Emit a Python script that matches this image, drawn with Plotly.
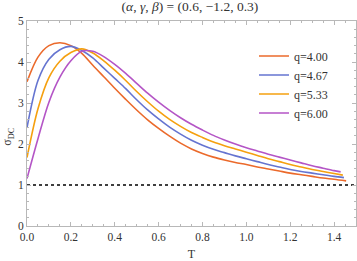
import plotly.graph_objects as go

T = [0.00, 0.05, 0.10, 0.15, 0.20, 0.25, 0.30, 0.35, 0.40, 0.45, 0.50, 0.55, 0.60, 0.65,
     0.70, 0.75, 0.80, 0.85, 0.90, 0.95, 1.00, 1.05, 1.10, 1.15, 1.20, 1.25, 1.30, 1.35, 1.40]

q_labels = ["q=4.00", "q=4.67", "q=5.33", "q=6.00"]
colors = ["#EB6A2B", "#6574D0", "#F5A00F", "#B455C6"]

sigma_q400 = [3.52, 4.12, 4.40, 4.47, 4.40, 4.21, 3.92, 3.64, 3.36, 3.09, 2.83, 2.59, 2.38, 2.19,
              2.02, 1.88, 1.77, 1.68, 1.61, 1.55, 1.50, 1.44, 1.39, 1.34, 1.29, 1.25, 1.21, 1.17, 1.14]
sigma_q467 = [2.40, 3.55, 4.07, 4.30, 4.38, 4.28, 4.10, 3.85, 3.60, 3.35, 3.08, 2.83, 2.61, 2.41,
              2.24, 2.09, 1.97, 1.87, 1.79, 1.71, 1.64, 1.57, 1.50, 1.44, 1.38, 1.33, 1.29, 1.25, 1.21]
sigma_q533 = [1.67, 2.86, 3.62, 4.02, 4.23, 4.32, 4.22, 4.03, 3.80, 3.55, 3.28, 3.03, 2.80, 2.60,
              2.43, 2.28, 2.16, 2.05, 1.96, 1.88, 1.80, 1.72, 1.64, 1.57, 1.50, 1.44, 1.38, 1.33, 1.28]
sigma_q600 = [1.16, 2.13, 3.02, 3.63, 4.03, 4.26, 4.26, 4.13, 3.94, 3.72, 3.48, 3.24, 3.02, 2.82,
              2.64, 2.48, 2.34, 2.21, 2.10, 2.00, 1.91, 1.83, 1.75, 1.68, 1.61, 1.54, 1.47, 1.41, 1.35]

T_end = [1.455, 1.445, 1.44, 1.43]
sigma_end = [1.10, 1.18, 1.24, 1.32]

series = [sigma_q400, sigma_q467, sigma_q533, sigma_q600]

ref_level = 1.0
x_range = [0, 1.5]
y_range = [0, 5]
x_ticks = [0.0, 0.2, 0.4, 0.6, 0.8, 1.0, 1.2, 1.4]
x_ticktext = ["0.0", "0.2", "0.4", "0.6", "0.8", "1.0", "1.2", "1.4"]

fig = go.Figure()
for lab, col, ys, te, se in zip(q_labels, colors, series, T_end, sigma_end):
    fig.add_trace(go.Scatter(
        x=T + [te], y=ys + [se], mode="lines", name=lab,
        line=dict(color=col, width=1.6, shape="spline", smoothing=0.9),
    ))

fig.add_trace(go.Scatter(
    x=x_range, y=[ref_level, ref_level], mode="lines", showlegend=False,
    line=dict(color="black", width=1.6, dash="3px,3px"),
))

serif = "Liberation Serif"
axis_common = dict(
    showline=True, linecolor="#b8b8b8", linewidth=1, mirror="ticks",
    ticks="inside", ticklen=4, tickcolor="#b8b8b8", tickwidth=1,
    showgrid=False, zeroline=False,
    tickfont=dict(family=serif, size=11.5, color="#333333"),
)

fig.update_layout(
    width=357, height=261,
    margin=dict(l=27, r=1, t=21, b=35),
    paper_bgcolor="white", plot_bgcolor="white",
    title=dict(text="(<i>α</i>, <i>γ</i>, <i>β</i>) = (0.6, −1.2, 0.3)",
               x=0.532, xanchor="center", y=0.995, yanchor="top",
               font=dict(family=serif, size=13.5, color="#333333")),
    xaxis=dict(range=x_range, tickvals=x_ticks, ticktext=x_ticktext,
               minor=dict(dtick=0.05, ticks="inside", ticklen=2, tickcolor="#b8b8b8"),
               title=dict(text="T", font=dict(family=serif, size=12, color="#333333"), standoff=8),
               **axis_common),
    yaxis=dict(range=y_range, dtick=1,
               minor=dict(dtick=0.2, ticks="inside", ticklen=2, tickcolor="#b8b8b8"),
               **axis_common),
    legend=dict(x=0.69, y=0.9, xanchor="left", yanchor="top",
                bgcolor="rgba(0,0,0,0)", tracegroupgap=0,
                font=dict(family=serif, size=12, color="#333333"),
                itemwidth=30),
    annotations=[dict(
        text="σ<sub>DC</sub>", textangle=-90, showarrow=False,
        xref="paper", yref="paper", x=-0.058, y=0.44,
        xanchor="center", yanchor="middle",
        font=dict(family=serif, size=12, color="#333333"),
    )],
)

fig.write_html("out.html", config={"displayModeBar": False},
               post_script="document.body.style.margin='0';")
